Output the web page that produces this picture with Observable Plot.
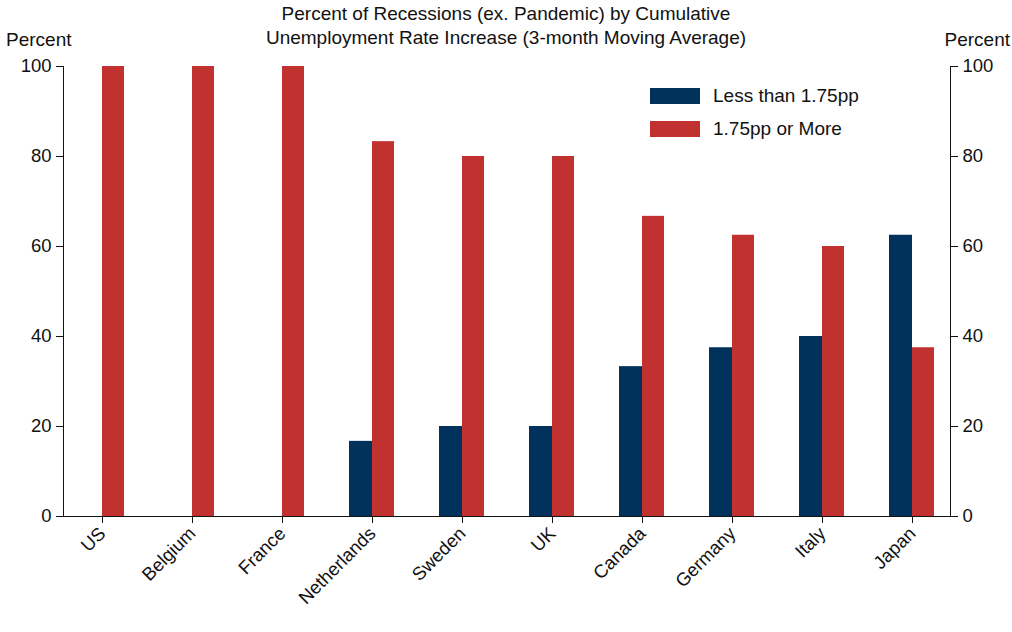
<!DOCTYPE html>
<html><head><meta charset="utf-8">
<script src="https://cdn.jsdelivr.net/npm/d3@7"></script>
<script src="https://cdn.jsdelivr.net/npm/@observablehq/plot@0.6"></script>
<style>
body{margin:0;background:#fff;font-family:"Liberation Sans",Arial,sans-serif;}
#wrap{position:relative;width:1012px;height:632px;}
.t{position:absolute;font-size:19px;color:#111;}
.sw{position:absolute;width:50px;height:16px;}
</style></head><body>
<div id="wrap">
  <div class="t" style="left:0;width:1012px;top:2px;text-align:center;line-height:24px;">Percent of Recessions (ex. Pandemic) by Cumulative<br>Unemployment Rate Increase (3-month Moving Average)</div>
  <div class="t" style="left:6px;top:29px;">Percent</div>
  <div class="t" style="right:2px;top:29px;">Percent</div>
  <div class="sw" style="left:650px;top:88px;background:#00325b"></div>
  <div class="t" style="left:713px;top:85px;">Less than 1.75pp</div>
  <div class="sw" style="left:650px;top:121px;background:#c1312f"></div>
  <div class="t" style="left:713px;top:118px;">1.75pp or More</div>
  <div id="chart"></div>
</div>
<script>
const countries = ['US','Belgium','France','Netherlands','Sweden','UK','Canada','Germany','Italy','Japan'];
const lessThan = [0,0,0,16.7,20,20,33.3,37.5,40,62.5];
const orMore = [100,100,100,83.3,80,80,66.7,62.5,60,37.5];
const yTicks = [0,20,40,60,80,100];

const less = countries.map((c,i) => ({country:c, value:lessThan[i]}));
const more = countries.map((c,i) => ({country:c, value:orMore[i]}));

let chart = Plot.plot({
  width: 1012,
  height: 632,
  marginLeft: 63,
  marginRight: 62,
  marginTop: 66,
  marginBottom: 116,
  style: {fontFamily: '"Liberation Sans", Arial, sans-serif', fontSize: '18.5px', color: '#111'},
  x: {domain: countries, range: [57, 957], padding: 0},
  y: {domain: [0, 100]},
  marks: [
    Plot.barY(less.filter(d => d.value > 0), {x:'country', y:'value', fill:'#00325b', insetLeft:22, insetRight:45}),
    Plot.barY(more, {x:'country', y:'value', fill:'#c1312f', insetLeft:45, insetRight:23}),
    Plot.frame({anchor:'left', stroke:'#111'}),
    Plot.frame({anchor:'right', stroke:'#111'}),
    Plot.ruleY([0], {stroke:'#111'}),
    Plot.axisY({anchor:'left', ticks:yTicks, tickSize:7, label:null, tickPadding:5}),
    Plot.axisY({anchor:'right', ticks:yTicks, tickSize:7, label:null, tickPadding:5}),
    Plot.axisX({anchor:'bottom', tickSize:7, label:null, tickRotate:-45, tickPadding:7}),
  ],
})
d3.select('#chart').append(() => chart)
</script>
</body></html>
